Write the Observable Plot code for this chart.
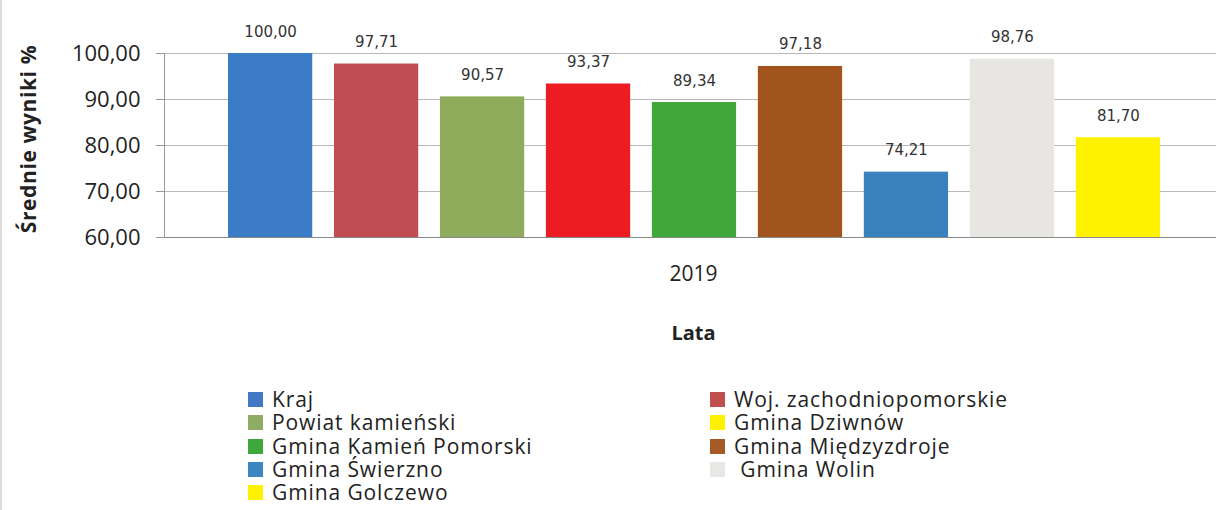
<!DOCTYPE html>
<html>
<head>
<meta charset="utf-8">
<script src="https://cdn.jsdelivr.net/npm/d3@7"></script>
<script src="https://cdn.jsdelivr.net/npm/@observablehq/plot@0.6"></script>
<style>
  html, body { margin: 0; padding: 0; background: #fff; }
  body { width: 1216px; height: 510px; overflow: hidden; font-family: "Open Sans", sans-serif; color: #222; position: relative; }
  #edge { position: absolute; left: 0; top: 0; width: 2px; height: 510px; background: #ddd; z-index: 5; }
  #chart { position: relative; }
  #chart svg { display: block; }
  #ytitle { position: absolute; left: 28px; top: 139px; transform: translate(-50%, -50%) rotate(-90deg); font-size: 21px; font-weight: bold; letter-spacing: 0.6px; white-space: nowrap; color: #222; }
  #legend { position: relative; height: 140px; }
  .col { position: absolute; top: 18px; }
  .item { display: flex; align-items: center; height: 23.3px; font-size: 21px; letter-spacing: 0.9px; line-height: 23.3px; white-space: pre; }
  .sw { width: 15px; height: 15px; margin-right: 9px; flex: none; }
</style>
</head>
<body>
<div id="edge"></div>
<div id="chart"><div id="ytitle"></div></div>
<div id="legend"></div>
<script>
const categories = ["Kraj", "Woj. zachodniopomorskie", "Powiat kamieński", "Gmina Dziwnów", "Gmina Kamień Pomorski", "Gmina Międzyzdroje", "Gmina Świerzno", "Gmina Wolin", "Gmina Golczewo"];
const values = [100.00, 97.71, 90.57, 93.37, 89.34, 97.18, 74.21, 98.76, 81.70];
const barColors = ["#3c7cc6", "#c04d52", "#8fab5c", "#ec1c22", "#40a83a", "#a2541f", "#3a82bd", "#e8e6e3", "#fff200"];
const legendColors = ["#4279c4", "#c0504d", "#8fac64", "#fff200", "#3fa83c", "#a65a26", "#3c85c0", "#e9e7e4", "#fff200"];
const yTicks = [60, 70, 80, 90, 100];
const yearLabel = "2019";
const xTitle = "Lata";
const yTitle = "Średnie wyniki %";

const data = categories.map((c, i) => ({category: c, value: values[i], color: barColors[i]}));
const fmt = d => d.toFixed(2).replace(".", ",");

const chart = Plot.plot({
  width: 1216,
  height: 370,
  marginLeft: 164,
  marginRight: 0,
  marginTop: 53,
  marginBottom: 133,
  style: {fontFamily: "Open Sans, sans-serif", background: "#fff", color: "#222"},
  x: {type: "band", domain: categories, range: [228, 1160], paddingInner: 0.205, paddingOuter: 0, round: false, axis: null},
  y: {domain: [60, 100], axis: null},
  marks: [
    Plot.ruleY(yTicks.slice(1), {stroke: "#b8b8b8", strokeWidth: 1}),
    Plot.barY(data, {x: "category", y1: 60, y2: "value", fill: "color"}),
    Plot.ruleY([60], {stroke: "#888", strokeWidth: 1.2}),
    Plot.frame({anchor: "left", stroke: "#999"}),
    Plot.axisY({ticks: yTicks, tickSize: 8, tickPadding: 16, tickFormat: fmt, fontSize: 22, stroke: "#999", fill: "#222", label: null}),
    Plot.text(data, {x: "category", y: "value", text: d => fmt(d.value), lineAnchor: "bottom", dy: -17, fontSize: 15, fontFamily: "DejaVu Sans, sans-serif", fill: "#333"}),
    Plot.text([yearLabel], {frameAnchor: "bottom", dy: 43, dx: 3, text: d => d, fontSize: 21, fill: "#222"}),
    Plot.text([xTitle], {frameAnchor: "bottom", dy: 102, dx: 3, text: d => d, fontSize: 20, fontWeight: "bold", fill: "#222"})
  ]
});
document.getElementById("chart").appendChild(chart);
document.getElementById("ytitle").textContent = yTitle;

// Legend (two columns, row-major order as in the original)
const legend = document.getElementById("legend");
const cols = [document.createElement("div"), document.createElement("div")];
cols[0].className = "col"; cols[0].style.left = "248px";
cols[1].className = "col"; cols[1].style.left = "710px";
categories.forEach((c, i) => {
  const item = document.createElement("div");
  item.className = "item";
  const sw = document.createElement("span");
  sw.className = "sw";
  sw.style.background = legendColors[i];
  const label = document.createElement("span");
  label.textContent = c === "Gmina Wolin" ? " " + c : c;
  item.appendChild(sw); item.appendChild(label);
  cols[i % 2].appendChild(item);
});
cols.forEach(c => legend.appendChild(c));
</script>
</body>
</html>
